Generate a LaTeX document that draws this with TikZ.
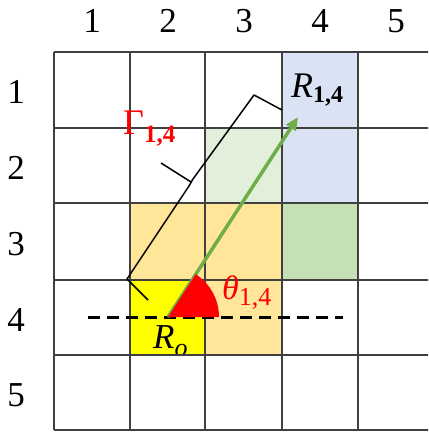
\documentclass[tikz,border=0pt]{standalone}
\usepackage{fontspec}
\setmainfont{Liberation Serif}
\usetikzlibrary{arrows.meta}
\definecolor{gridc}{HTML}{404040}
\definecolor{cblue}{HTML}{DAE3F3}
\definecolor{clgreen}{HTML}{E2EFDA}
\definecolor{cgreen}{HTML}{C5E0B4}
\definecolor{corange}{HTML}{FFE699}
\definecolor{cyellow}{HTML}{FFFF00}
\definecolor{carrow}{HTML}{70AD47}
\definecolor{cred}{HTML}{FF0000}
\tikzset{
  gridline/.style={draw=gridc, line width=1.2pt},
  numlab/.style={inner sep=0pt, font=\fontsize{35}{35}\selectfont},
  txt/.style={inner sep=0pt, anchor=base west},
  brk/.style={draw=black, line width=1.5pt, line join=round},
  garrow/.style={draw=carrow, line width=3.5pt, -{Triangle[length=13pt,width=11pt]}},
  dline/.style={draw=black, line width=3pt, dash pattern=on 12pt off 7pt},
}
\begin{document}
\begin{tikzpicture}[x=1pt,y=-1pt]
\useasboundingbox (0,0) rectangle (428,433);
\fill[white] (0,0) rectangle (428,433);
\begin{scope}
\clip (0,0) rectangle (428,433);
% fills
\fill[cblue] (282,52) rectangle (358,203);
\fill[clgreen] (205,128) rectangle (282,203);
\fill[cgreen] (282,203) rectangle (358,280);
\fill[corange] (130,203) rectangle (282,280);
\fill[corange] (205,280) rectangle (282,355);
\fill[cyellow] (130,280) rectangle (205,355);
% R_o label clipped to its cell
\begin{scope}
\clip (130,280) rectangle (205,355);
\node[txt] (ro) at (153,348) {\fontsize{35}{35}\selectfont\textit{R}\raisebox{-8pt}{\fontsize{26}{26}\selectfont\textit{o}}};
\end{scope}
% grid
\foreach \yy in {52,128,203,280,355,430} \draw[gridline] (54,\yy) -- (440,\yy);
\foreach \xx in {54,130,205,282,358} \draw[gridline] (\xx,52) -- (\xx,430);
\end{scope}
% column / row numbers
\node[numlab] (c1) at (92,21) {1};
\node[numlab] (c2) at (168,21) {2};
\node[numlab] (c3) at (244,21) {3};
\node[numlab] (c4) at (320,21) {4};
\node[numlab] (c5) at (396,21) {5};
\node[numlab] (r1) at (16,92) {1};
\node[numlab] (r2) at (16,168) {2};
\node[numlab] (r3) at (16,244) {3};
\node[numlab] (r4) at (16,320) {4};
\node[numlab] (r5) at (16,395) {5};
% dashed horizontal line
\coordinate (dl) at (88,317);
\coordinate (dr) at (343,317);
\draw[dline] (dl) -- (dr);
% green arrow
\coordinate (O) at (168,317);
\coordinate (T) at (298,117);
\draw[garrow] (O) -- (T);
% red sector
\fill[cred] (O) -- plot[domain=0:57, samples=40, variable=\t] ({168+51*cos(\t)},{317-51*sin(\t)}) -- cycle;
% bracket
\coordinate (b1) at (148,300);
\coordinate (b2) at (127,279);
\coordinate (b3) at (189,186);
\coordinate (b4) at (193,179);
\coordinate (b5) at (254,95);
\coordinate (b6) at (282,110);
\coordinate (bm) at (191,182);
\coordinate (bn) at (161,163);
\draw[brk] (b1) -- (b2) -- (b3) -- (b4) -- (b5) -- (b6);
\draw[brk] (bm) -- (bn);
% labels
\node[txt] (r14) at (291,98) {\fontsize{36}{36}\selectfont\textit{R}\raisebox{-5pt}{\fontsize{24}{24}\selectfont\textbf{1,4}}};
\node[txt, text=cred] (gam) at (123,134) {\fontsize{36}{36}\selectfont Γ\raisebox{-8pt}{\fontsize{25}{25}\selectfont\textbf{1,4}}};
\node[txt, text=cred] (th) at (222,299) {\fontsize{34}{34}\selectfont\textit{θ}\raisebox{-6pt}{\fontsize{26}{26}\selectfont 1,4}};
\end{tikzpicture}
\end{document}
